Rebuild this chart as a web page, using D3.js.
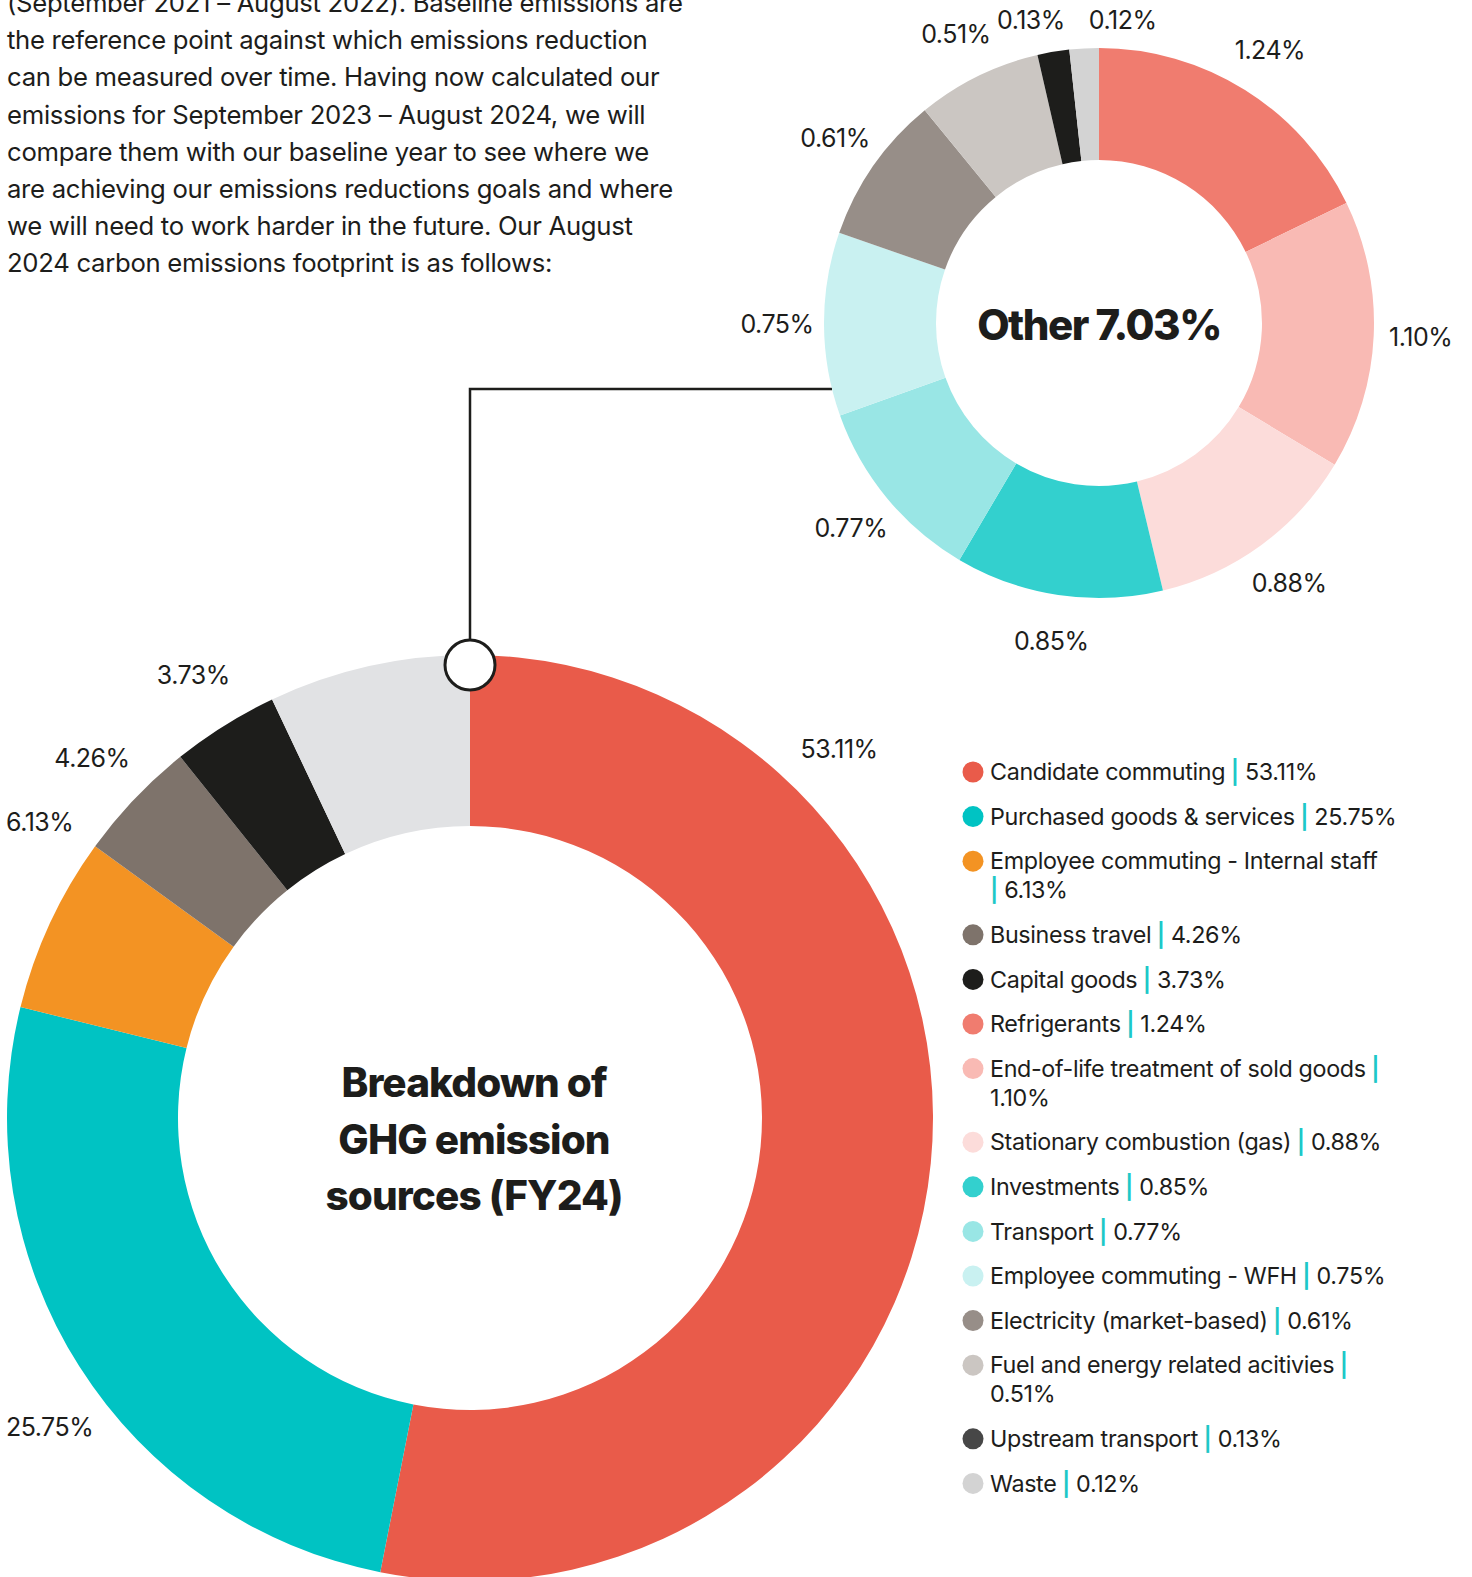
<!DOCTYPE html>
<html>
<head>
<meta charset="utf-8">
<script src="https://cdn.jsdelivr.net/npm/d3@7"></script>
<style>
  html, body { margin: 0; padding: 0; background: #fff; }
  svg { display: block; font-family: Inter, "Noto Sans", sans-serif; }
</style>
</head>
<body>
<svg id="chart"></svg>
<script>
// intro paragraph (cut off at the top in the original)
const introLines = [
  "(September 2021 – August 2022). Baseline emissions are",
  "the reference point against which emissions reduction",
  "can be measured over time. Having now calculated our",
  "emissions for September 2023 – August 2024, we will",
  "compare them with our baseline year to see where we",
  "are achieving our emissions reductions goals and where",
  "we will need to work harder in the future. Our August",
  "2024 carbon emissions footprint is as follows:"
];

// main donut
const mainCategories = ["Candidate commuting", "Purchased goods & services", "Employee commuting - Internal staff",
  "Business travel", "Capital goods", "Other"];
const mainValues = [53.11, 25.75, 6.13, 4.26, 3.73, 7.03];
const mainColors = ["#e95b4a", "#00c3c3", "#f39323", "#7e736b", "#1d1d1b", "#e1e2e4"];

// breakdown of "Other"
const otherCategories = ["Refrigerants", "End-of-life treatment of sold goods", "Stationary combustion (gas)",
  "Investments", "Transport", "Employee commuting - WFH", "Electricity (market-based)",
  "Fuel and energy related acitivies", "Upstream transport", "Waste"];
const otherValues = [1.24, 1.10, 0.88, 0.85, 0.77, 0.75, 0.61, 0.51, 0.13, 0.12];
const otherColors = ["#f07c6f", "#f9bab4", "#fcdcda", "#33d0ce", "#99e6e5", "#c9f1f1", "#978e88", "#cbc6c2", "#1d1d1b", "#d3d3d3"];
const otherTotal = 7.03;

// where the legend text wraps onto a second line (as in the original)
const wrapBefore = {
  "Employee commuting - Internal staff": "sep",
  "End-of-life treatment of sold goods": "value",
  "Fuel and energy related acitivies": "value"
};

const W = 1472, H = 1577;
const ink = "#1d1d1b";
const fmt = v => v.toFixed(2) + "%";

const svg = d3.select("#chart").attr("width", W).attr("height", H);

// ---- intro text
svg.append("g").selectAll("text")
  .data(introLines)
  .join("text")
    .attr("x", 7)
    .attr("y", (d, i) => 3 + i * 37.2)
    .attr("dy", "0.35em")
    .attr("fill", ink)
    .style("font-size", "25.7px")
    .style("letter-spacing", "-0.3px")
    .text(d => d);

// ---- main donut
const main = { cx: 470, cy: 1118, r0: 292, r1: 463, labelR: 522 };
const pie = d3.pie().sort(null).value(d => d.value);
const mainData = mainCategories.map((c, i) => ({ name: c, value: mainValues[i], color: mainColors[i] }));
const mainArcs = pie(mainData);
const mainArc = d3.arc().innerRadius(main.r0).outerRadius(main.r1);

const gMain = svg.append("g").attr("transform", `translate(${main.cx},${main.cy})`);
gMain.selectAll("path")
  .data(mainArcs)
  .join("path")
    .attr("d", mainArc)
    .attr("fill", d => d.data.color);

// labels: near the start of big slices, mid of small ones, kept inside the page
const labG = gMain.append("g").style("font-size", "25px").attr("fill", ink);
mainArcs.filter(d => d.data.name !== "Other").forEach(d => {
  let a = d.startAngle + Math.min((d.endAngle - d.startAngle) / 2, Math.PI / 4);
  const t = labG.append("text").attr("text-anchor", "middle").attr("dy", "0.35em")
    .style("letter-spacing", "-0.5px").text(fmt(d.data.value));
  const hw = t.node().getComputedTextLength() / 2;
  let x = main.labelR * Math.sin(a);
  const minX = 6 + hw - main.cx;
  if (x < minX) {
    const s = Math.asin(minX / main.labelR);
    a = Math.cos(a) > 0 ? 2 * Math.PI + s : Math.PI - s;
    x = main.labelR * Math.sin(a);
  }
  t.attr("x", x).attr("y", -main.labelR * Math.cos(a));
});

// center title
const titleLines = ["Breakdown of", "GHG emission", "sources (FY24)"];
gMain.append("g").selectAll("text")
  .data(titleLines)
  .join("text")
    .attr("x", 4)
    .attr("y", (d, i) => i * 56.5 - 35)
    .attr("dy", "0.35em")
    .attr("text-anchor", "middle")
    .attr("fill", ink)
    .style("font-size", "40.5px")
    .style("font-weight", 800)
    .style("letter-spacing", "-0.9px")
    .text(d => d);

// ---- "Other" donut
const small = { cx: 1099, cy: 323, r0: 163, r1: 275, labelR: 322 };
const otherData = otherCategories.map((c, i) => ({ name: c, value: otherValues[i], color: otherColors[i] }));
const otherArcs = pie(otherData);
const smallArc = d3.arc().innerRadius(small.r0).outerRadius(small.r1);

// connector from the "Other" slice to the small donut
const link = d3.path();
link.moveTo(main.cx, main.cy - main.r1 - 2);
link.lineTo(main.cx, small.cy + 66);
link.lineTo(small.cx - small.r1 + 8, small.cy + 66);
svg.append("path")
  .attr("d", link.toString())
  .attr("fill", "none")
  .attr("stroke", ink)
  .attr("stroke-width", 2.5);

const gSmall = svg.append("g").attr("transform", `translate(${small.cx},${small.cy})`);
gSmall.selectAll("path")
  .data(otherArcs)
  .join("path")
    .attr("d", smallArc)
    .attr("fill", d => d.data.color);

// labels around the small donut, kept on the page and pushed apart where they collide
const topLimit = 20 - small.cy;
const sLab = otherArcs.map(d => {
  const a = (d.startAngle + d.endAngle) / 2;
  return { text: fmt(d.data.value), x: small.labelR * Math.sin(a), y: Math.max(topLimit, -small.labelR * Math.cos(a)) };
});
const sG = gSmall.append("g").style("font-size", "25px").attr("fill", ink);
const sTexts = sG.selectAll("text")
  .data(sLab)
  .join("text")
    .attr("text-anchor", "middle")
    .attr("dy", "0.35em")
    .style("letter-spacing", "-0.5px")
    .text(d => d.text);
sTexts.each(function(d) { d.w = this.getComputedTextLength(); });
for (let i = 1; i < sLab.length; i++) {
  const p = sLab[i - 1], q = sLab[i];
  if (Math.abs(p.y - q.y) < 30) {
    const need = (p.w + q.w) / 2 + 24 - Math.abs(q.x - p.x);
    if (need > 0) { p.x -= need * 0.3; q.x += need * 0.7; }
  }
}
sTexts.attr("x", d => d.x).attr("y", d => d.y);

gSmall.append("text")
  .attr("text-anchor", "middle")
  .attr("dy", "0.35em")
  .attr("y", 2)
  .attr("fill", ink)
  .style("font-size", "42px")
  .style("font-weight", 800)
  .style("letter-spacing", "-1.5px")
  .text("Other " + fmt(otherTotal));

// pick-off circle on the main donut
svg.append("circle")
  .attr("cx", main.cx)
  .attr("cy", main.cy - main.r1 + 10)
  .attr("r", 25)
  .attr("fill", "#fff")
  .attr("stroke", ink)
  .attr("stroke-width", 3);

// ---- legend
const legendNames = mainCategories.slice(0, 5).concat(otherCategories);
const legendValues = mainValues.slice(0, 5).concat(otherValues);
const legendColors = mainColors.slice(0, 5).concat(otherColors.slice(0, 8), ["#474747", "#d3d3d3"]);

const leg = { x: 973, y: 772, textX: 990, step: 44.6, wrapStep: 29 };
const sepColor = "#1ec8c8";
const gLeg = svg.append("g").style("font-size", "23.3px").attr("fill", ink);
let ly = leg.y;
legendNames.forEach((name, i) => {
  gLeg.append("circle").attr("cx", leg.x).attr("cy", ly).attr("r", 10.5).attr("fill", legendColors[i]);
  const t = gLeg.append("text").attr("x", leg.textX).attr("y", ly).attr("dy", "0.35em")
    .style("letter-spacing", "-0.35px");
  const brk = wrapBefore[name];
  t.append("tspan").text(name);
  const sep = t.append("tspan").attr("fill", sepColor).style("font-weight", 600);
  if (brk === "sep") sep.attr("x", leg.textX).attr("dy", leg.wrapStep).text("|");
  else sep.text(" |");
  const val = t.append("tspan");
  if (brk === "value") val.attr("x", leg.textX).attr("dy", leg.wrapStep).text(fmt(legendValues[i]));
  else val.text(" " + fmt(legendValues[i]));
  ly += leg.step + (brk ? leg.wrapStep : 0);
});
</script>
</body>
</html>
